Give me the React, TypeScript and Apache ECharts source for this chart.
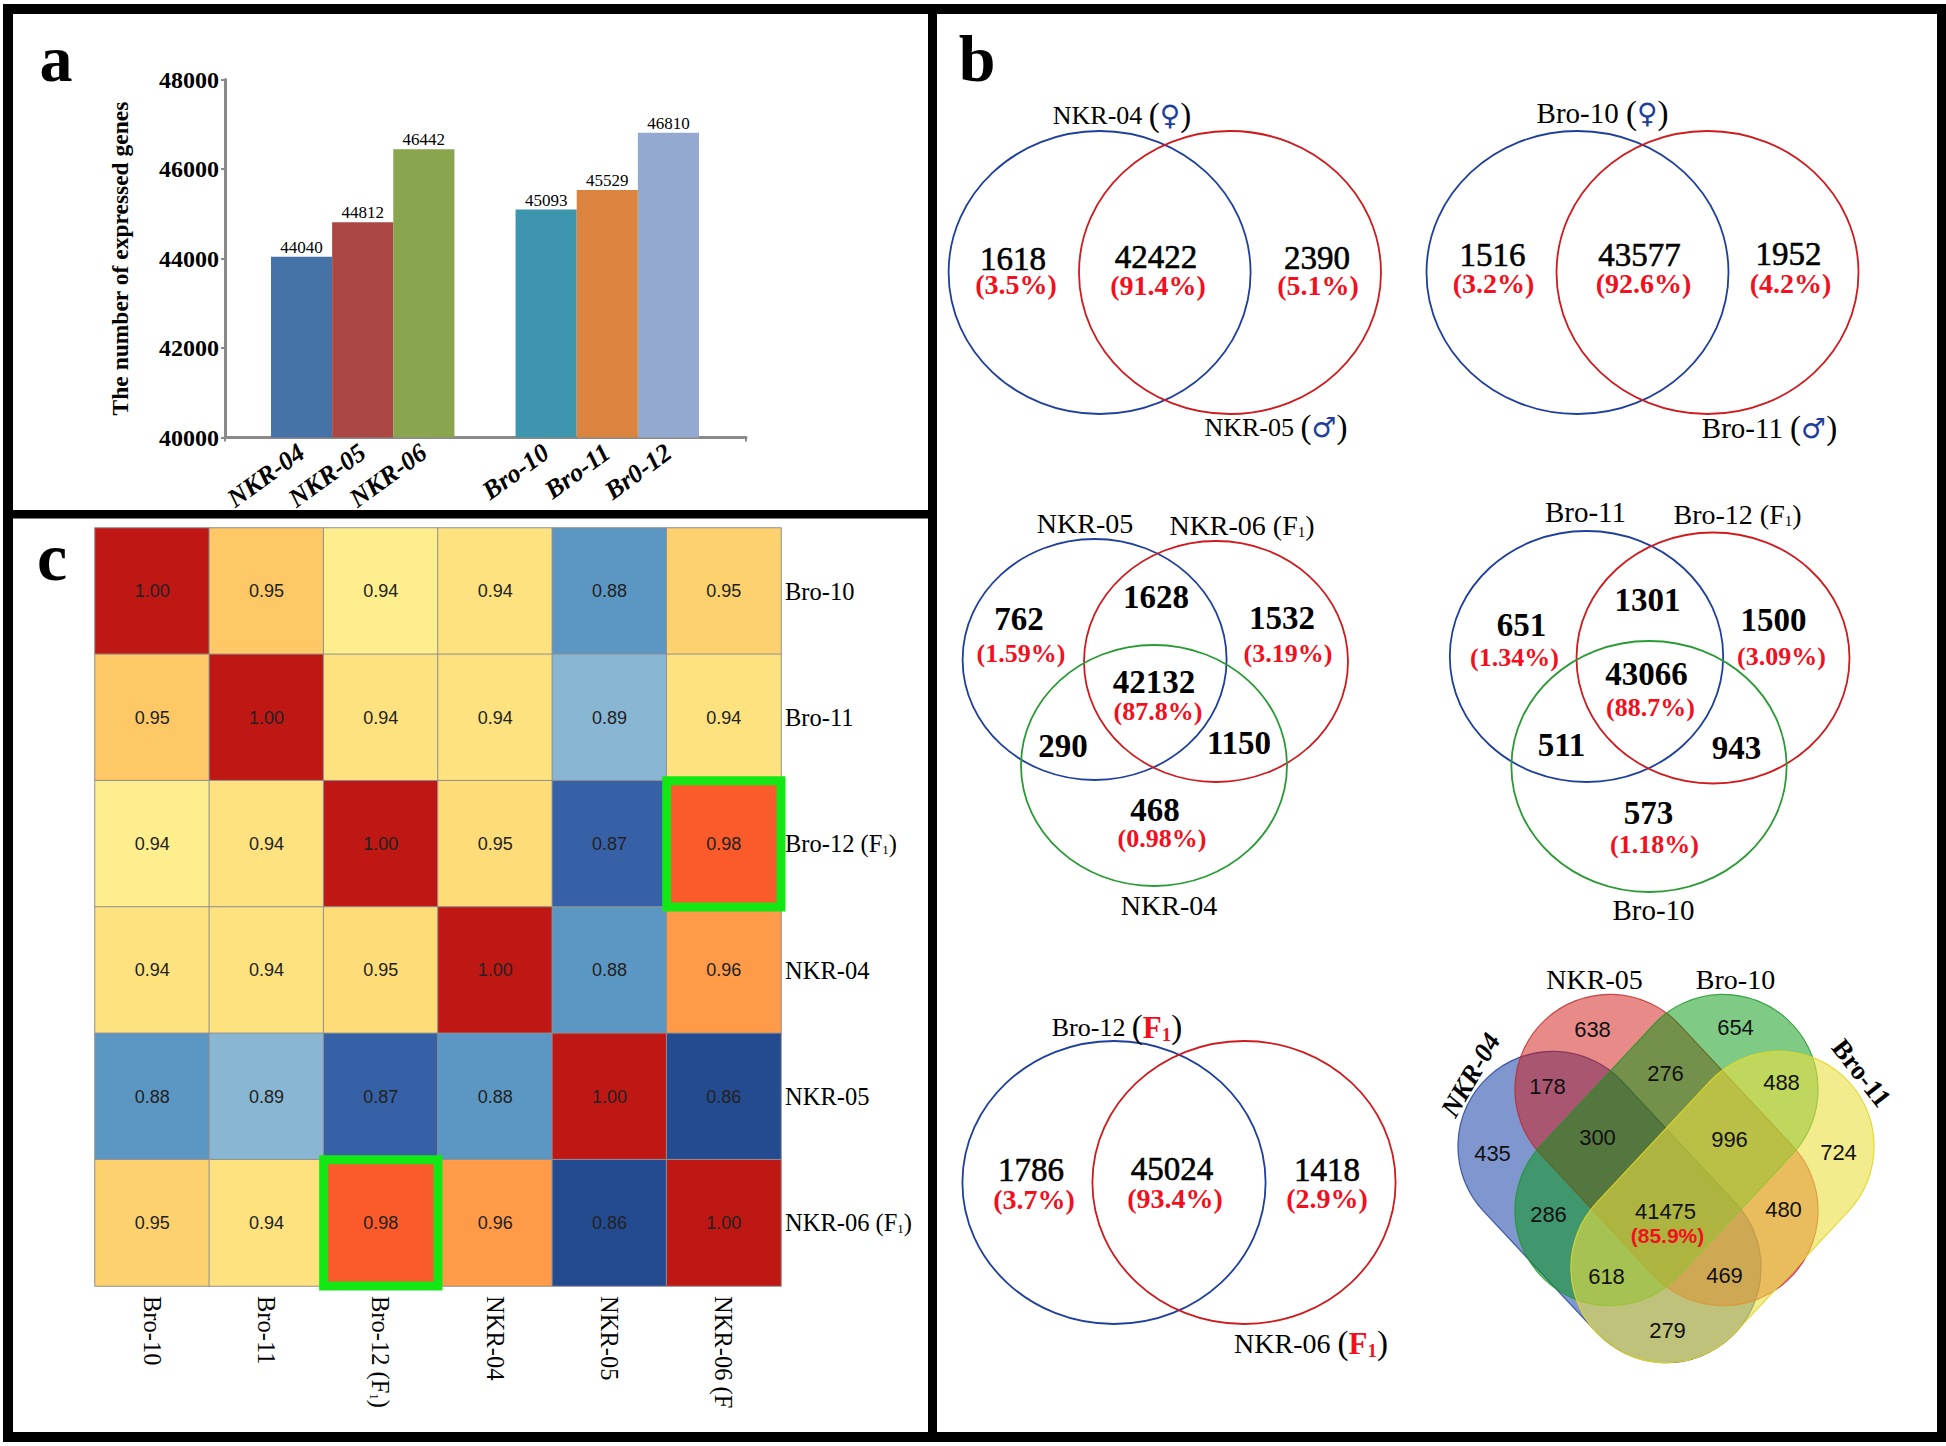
import React, { useEffect, useRef } from "react";
import * as echarts from "echarts";

// ---------- panel a data ----------
const barCategories = ["NKR-04", "NKR-05", "NKR-06", "", "Bro-10", "Bro-11", "Br0-12"];
const barValues = [44040, 44812, 46442, null, 45093, 45529, 46810];
const barColors = ["#4572a7", "#aa4643", "#89a54e", "#ffffff", "#3d96ae", "#db843d", "#93a9cf"];
const barTicks = [40000, 48000];
const barAxisTitle = "The number of expressed genes";

// ---------- panel c data ----------
const heatRows = ["Bro-10", "Bro-11", "Bro-12 (F1)", "NKR-04", "NKR-05", "NKR-06 (F1)"];
const heatColumns = ["Bro-10", "Bro-11", "Bro-12 (F1)", "NKR-04", "NKR-05", "NKR-06 (F"];
const heatValues = [
  [1.0, 0.953, 0.937, 0.942, 0.88, 0.95],
  [0.953, 1.0, 0.942, 0.942, 0.89, 0.94],
  [0.937, 0.942, 1.0, 0.946, 0.87, 0.98],
  [0.942, 0.942, 0.946, 1.0, 0.88, 0.96],
  [0.88, 0.89, 0.87, 0.88, 1.0, 0.86],
  [0.95, 0.94, 0.98, 0.96, 0.86, 1.0],
];
const heatPieces = [
  { min: 0.85, max: 0.865, color: "#244b90" },
  { min: 0.865, max: 0.875, color: "#3661a6" },
  { min: 0.875, max: 0.885, color: "#5c97c3" },
  { min: 0.885, max: 0.9, color: "#88b6d3" },
  { min: 0.93, max: 0.938, color: "#feee8e" },
  { min: 0.938, max: 0.944, color: "#fde27f" },
  { min: 0.944, max: 0.949, color: "#fedd78" },
  { min: 0.949, max: 0.952, color: "#fdd26e" },
  { min: 0.952, max: 0.955, color: "#fdc865" },
  { min: 0.955, max: 0.97, color: "#fe9a48" },
  { min: 0.97, max: 0.99, color: "#fb5a2a" },
  { min: 0.99, max: 1.01, color: "#bf1714" },
];
const heatHighlights = [[5, 2], [2, 5]];

// ---------- panel b data ----------
const pairOneCounts = ["1618", "42422", "2390"];
const pairOnePercents = ["(3.5%)", "(91.4%)", "(5.1%)"];
const pairTwoCounts = ["1516", "43577", "1952"];
const pairTwoPercents = ["(3.2%)", "(92.6%)", "(4.2%)"];
const tripleOneCounts = ["762", "1628", "1532", "42132", "290", "1150", "468"];
const tripleOnePercents = ["(1.59%)", "(3.19%)", "(87.8%)", "(0.98%)"];
const tripleTwoCounts = ["651", "1301", "1500", "43066", "511", "943", "573"];
const tripleTwoPercents = ["(1.34%)", "(3.09%)", "(88.7%)", "(1.18%)"];
const pairThreeCounts = ["1786", "45024", "1418"];
const pairThreePercents = ["(3.7%)", "(93.4%)", "(2.9%)"];
const quadCounts = ["638", "654", "178", "276", "488", "300", "996", "435", "724", "286", "41475", "480", "618", "469", "279"];
const quadPercent = "(85.9%)";

// ---------- layout ----------
const SERIF = '"Liberation Serif", "Times New Roman", serif';
const SANS = '"Liberation Sans", Arial, sans-serif';
const SYMBOL = '"DejaVu Sans", sans-serif';
const BLUE = "#1f3f9c";
const RED = "#cf1a1e";
const GREEN = "#2a9a35";
const PCT = "#f2101e";
const HEAVY = { stroke: "#000", lineWidth: 0.6 };
const RIGHT_COLUMN_X = 1420;
const RIGHT_COLUMN_SHIFT = -2.5;
const sx = (x: number) => (x > RIGHT_COLUMN_X ? x + RIGHT_COLUMN_SHIFT : x);

type P = [number, number];
const pairOneCountPos: P[] = [[1013, 259], [1156, 257], [1317, 258]];
const pairOnePctPos: P[] = [[1016, 284], [1158, 285], [1318, 285]];
const pairTwoCountPos: P[] = [[1495, 255], [1642, 255], [1791, 254]];
const pairTwoPctPos: P[] = [[1496, 283], [1646, 283], [1793, 283]];
const tripleOneCountPos: P[] = [[1019, 619], [1156, 597], [1282, 618], [1154, 682], [1063, 746], [1239, 743], [1155, 810]];
const tripleOnePctPos: P[] = [[1021, 653], [1288, 653], [1158, 711], [1162, 838]];
const tripleTwoCountPos: P[] = [[1524, 625], [1650, 600], [1776, 620], [1649, 674], [1564, 745], [1739, 748], [1651, 813]];
const tripleTwoPctPos: P[] = [[1517, 657], [1784, 656], [1653, 707], [1657, 844]];
const pairThreeCountPos: P[] = [[1031, 1170], [1172, 1169], [1327, 1170]];
const pairThreePctPos: P[] = [[1034, 1199], [1175, 1198], [1327, 1198]];
const quadCountPos: P[] = [[1595, 1029], [1738, 1027], [1550, 1086], [1668, 1073], [1784, 1082], [1600, 1137], [1732, 1139], [1495, 1153], [1841, 1152], [1551, 1214], [1668, 1211], [1786, 1209], [1609, 1276], [1727, 1275], [1670, 1330]];

const text = (str: string, x: number, y: number, fontSize: number, extra: any = {}, el: any = {}) => ({
  type: "text", x: sx(x), y, z: 20, ...el,
  style: { text: str, align: "center", verticalAlign: "middle", fontFamily: SERIF, fontSize, fill: "#000", ...extra },
});
const ring = (cx: number, cy: number, rx: number, ry: number, stroke: string) => ({
  type: "ellipse", z: 10, shape: { cx: sx(cx), cy, rx, ry }, style: { fill: "none", stroke, lineWidth: 1.8 },
});
const block = (x: number, y: number, width: number, height: number) => ({
  type: "rect", z: 1, shape: { x, y, width, height }, style: { fill: "#000" },
});
const stadium = (cx: number, cy: number, deg: number, fill: string, stroke: string) => ({
  type: "rect", z: 5, x: sx(cx), y: cy, rotation: (deg * Math.PI) / 180,
  shape: { x: -178, y: -95, width: 356, height: 190, r: 95 },
  style: { fill, stroke, lineWidth: 1.2 },
});
const series = (labels: string[], pos: P[], size: number, extra: any = {}) =>
  labels.map((s, i) => text(s, pos[i][0], pos[i][1], size, extra));

const nameRich = {
  n: { fontFamily: SERIF, fontSize: 26, fill: "#000", color: "#000" },
  p: { fontFamily: SERIF, fontSize: 33, fill: "#000", color: "#000" },
  g: { fontFamily: SYMBOL, fontSize: 28, fill: BLUE, color: BLUE },
  s: { fontFamily: SERIF, fontSize: 15, fill: "#000", color: "#000", verticalAlign: "bottom" },
  F: { fontFamily: SERIF, fontSize: 31, fontWeight: "bold", fill: "#f2101e", color: "#f2101e" },
  S: { fontFamily: SERIF, fontSize: 19, fontWeight: "bold", fill: "#f2101e", color: "#f2101e", verticalAlign: "bottom" },
  f: { fontFamily: SERIF, fontSize: 28, fill: "#000", color: "#000" },
};
const rich = (str: string, x: number, y: number, size = 26) =>
  text(str, x, y, size, { rich: { ...nameRich, n: { ...nameRich.n, fontSize: size } } });

const heatLabel = (s: string) =>
  s.endsWith("(F1)") ? `{t|${s.replace("1)", "")}}{s|1}{t|)}` : `{t|${s}}`;
const heatRich = {
  t: { fontFamily: SERIF, fontSize: 24.5, color: "#000" },
  s: { fontFamily: SERIF, fontSize: 13, color: "#000", verticalAlign: "bottom" },
};
const axisGray = { color: "#8a8a8a", width: 3 };

function buildOption() {
  const heatData: any[] = [];
  heatValues.forEach((row, r) => row.forEach((v, c) => heatData.push([c, r, v])));
  const graphics: any[] = [
    // frames
    block(3, 4, 1943, 10), block(3, 4, 10, 1438), block(3, 1432, 1943, 10),
    block(1937, 4, 9, 1438), block(928, 4, 9, 1438), block(3, 510, 934, 8.5),
    // panel letters
    text("a", 56, 58, 66, { fontWeight: "bold" }),
    text("b", 977, 58, 66, { fontWeight: "bold" }),
    text("c", 52, 557, 68, { fontWeight: "bold" }),
    // pair one
    ring(1099.6, 272.5, 151, 141.5, BLUE), ring(1230, 272.5, 151, 141.5, RED),
    ...series(pairOneCounts, pairOneCountPos, 33, HEAVY),
    ...series(pairOnePercents, pairOnePctPos, 28, { fill: PCT, fontWeight: "bold" }),
    rich("{n|NKR-04 }{p|(}{g|♀}{p|)}", 1122, 115),
    rich("{n|NKR-05 }{p|(}{g|♂}{p|)}", 1276, 427),
    // pair two
    ring(1580, 272.5, 151, 141.5, BLUE), ring(1710, 272.5, 151, 141.5, RED),
    ...series(pairTwoCounts, pairTwoCountPos, 33, HEAVY),
    ...series(pairTwoPercents, pairTwoPctPos, 28, { fill: PCT, fontWeight: "bold" }),
    rich("{n|Bro-10 }{p|(}{g|♀}{p|)}", 1605, 113, 29),
    rich("{n|Bro-11 }{p|(}{g|♂}{p|)}", 1772, 428, 29),
    // triple one
    ring(1094.6, 659.5, 132, 120.5, BLUE), ring(1216, 661.5, 132, 120.5, RED), ring(1154, 765.5, 133, 120.5, GREEN),
    ...series(tripleOneCounts, tripleOneCountPos, 33, { fontWeight: "bold" }),
    ...series(tripleOnePercents, tripleOnePctPos, 26, { fill: PCT, fontWeight: "bold" }),
    text("NKR-05", 1085, 523, 28),
    rich("{f|NKR-06 (F}{s|1}{f|)}", 1242, 525),
    text("NKR-04", 1169, 905, 28),
    // triple two
    ring(1589, 656.5, 136.7, 125.5, BLUE), ring(1715.5, 658, 136.5, 125.5, RED), ring(1651.5, 766.5, 137.6, 125.5, GREEN),
    ...series(tripleTwoCounts, tripleTwoCountPos, 33, { fontWeight: "bold" }),
    ...series(tripleTwoPercents, tripleTwoPctPos, 26, { fill: PCT, fontWeight: "bold" }),
    text("Bro-11", 1588, 512, 29),
    rich("{f|Bro-12 (F}{s|1}{f|)}", 1740, 514),
    text("Bro-10", 1656, 910, 29),
    // pair three
    ring(1114, 1182.5, 151.6, 141.5, BLUE), ring(1244, 1182.5, 151.6, 141.5, RED),
    ...series(pairThreeCounts, pairThreeCountPos, 33, HEAVY),
    ...series(pairThreePercents, pairThreePctPos, 28, { fill: PCT, fontWeight: "bold" }),
    rich("{n|Bro-12 }{p|(}{F|F}{S|1}{p|)}", 1117, 1027),
    rich("{n|NKR-06 }{p|(}{F|F}{S|1}{p|)}", 1311, 1343, 28),
    // four-way
    stadium(1612, 1207, -47, "rgba(1,45,159,0.5)", "rgba(30,60,150,0.8)"),
    stadium(1669, 1150, -47, "rgba(209,21,17,0.5)", "rgba(190,40,40,0.8)"),
    stadium(1669, 1150, 47, "rgba(0,151,13,0.5)", "rgba(30,150,40,0.8)"),
    stadium(1725, 1207, 47, "rgba(233,223,65,0.6)", "rgba(225,215,40,0.9)"),
    ...series(quadCounts, quadCountPos, 22, { fontFamily: SANS, fill: "#111" }),
    text(quadPercent, 1670, 1235, 21, { fill: PCT, fontWeight: "bold", fontFamily: SANS }),
    text("NKR-05", 1597, 979, 28),
    text("Bro-10", 1738, 979, 28),
    text("NKR-04", 1473, 1075, 27, { fontStyle: "italic", fontWeight: "bold" }, { rotation: (60 * Math.PI) / 180 }),
    text("Bro-11", 1864, 1073, 27, { fontWeight: "bold" }, { rotation: (-52 * Math.PI) / 180 }),
  ];

  return {
    animation: false,
    backgroundColor: "#fff",
    visualMap: { type: "piecewise", show: false, seriesIndex: 1, dimension: 2, pieces: heatPieces },
    grid: [
      { left: 225, top: 79.5, width: 521, height: 358 },
      { left: 271, top: 79.5, width: 428, height: 358 },
      { left: 95, top: 528, width: 686, height: 758 },
    ],
    xAxis: [
      {
        gridIndex: 0, type: "value", min: 0, max: 1, interval: 1,
        splitLine: { show: false }, axisLabel: { show: false },
        axisLine: { show: true, onZero: false, lineStyle: axisGray },
        axisTick: { show: true, length: 4, lineStyle: { color: "#8a8a8a", width: 2 } },
      },
      {
        gridIndex: 1, type: "category", data: barCategories,
        axisLine: { show: false }, axisTick: { show: false },
        axisLabel: {
          interval: 0, rotate: 36, margin: 12, fontFamily: SERIF, fontSize: 26,
          fontWeight: "bold", fontStyle: "italic", color: "#000",
        },
      },
      {
        gridIndex: 2, type: "category", data: heatColumns, position: "bottom",
        axisLine: { show: false }, axisTick: { show: false }, splitLine: { show: false },
        axisLabel: { interval: 0, rotate: -90, margin: 10, formatter: heatLabel, rich: heatRich },
      },
    ],
    yAxis: [
      {
        gridIndex: 0, type: "value", min: barTicks[0], max: barTicks[1], interval: 2000,
        name: barAxisTitle, nameLocation: "middle", nameGap: 93,
        nameTextStyle: { fontFamily: SERIF, fontSize: 23.5, fontWeight: "bold", color: "#000" },
        splitLine: { show: false },
        axisLine: { show: true, lineStyle: axisGray },
        axisTick: { show: true, length: 4, lineStyle: { color: "#8a8a8a", width: 2 } },
        axisLabel: {
          margin: 6, fontFamily: SERIF, fontSize: 24, fontWeight: "bold", color: "#000",
          formatter: (v: number) => String(v),
        },
      },
      { gridIndex: 1, type: "value", min: barTicks[0], max: barTicks[1], show: false, splitLine: { show: false } },
      {
        gridIndex: 2, type: "category", data: heatRows, inverse: true, position: "right",
        axisLine: { show: false }, axisTick: { show: false }, splitLine: { show: false },
        axisLabel: { interval: 0, margin: 4, formatter: heatLabel, rich: heatRich },
      },
    ],
    series: [
      {
        type: "bar", xAxisIndex: 1, yAxisIndex: 1, barWidth: "100%", barGap: 0,
        data: barValues.map((v, i) => ({ value: v, itemStyle: { color: barColors[i] } })),
        label: { show: true, position: "top", distance: 1, fontFamily: SERIF, fontSize: 17, color: "#000" },
      },
      {
        type: "heatmap", xAxisIndex: 2, yAxisIndex: 2, data: heatData,
        itemStyle: { borderColor: "#8f8f8f", borderWidth: 1 },
        label: {
          show: true, fontFamily: SANS, fontSize: 18, color: "#222",
          formatter: (p: any) => p.value[2].toFixed(2),
        },
      },
      {
        type: "custom", xAxisIndex: 2, yAxisIndex: 2, z: 5, data: heatHighlights,
        encode: { x: 0, y: 1 },
        renderItem: (_: any, api: any) => {
          const [cx, cy] = api.coord([api.value(0), api.value(1)]);
          const [w, h] = api.size([1, 1]);
          return {
            type: "rect",
            shape: { x: cx - w / 2, y: cy - h / 2, width: w, height: h },
            style: { fill: "none", stroke: "#14e814", lineWidth: 9 },
          };
        },
      },
    ],
    graphic: { elements: graphics },
  };
}

export default function App() {
  const ref = useRef<HTMLDivElement>(null);
  useEffect(() => {
    document.body.style.margin = "0";
    const chart = echarts.init(ref.current!, undefined, { renderer: "svg" });
    chart.setOption(buildOption() as any);
    return () => chart.dispose();
  }, []);
  return <div ref={ref} style={{ width: 1946, height: 1446 }} />;
}
